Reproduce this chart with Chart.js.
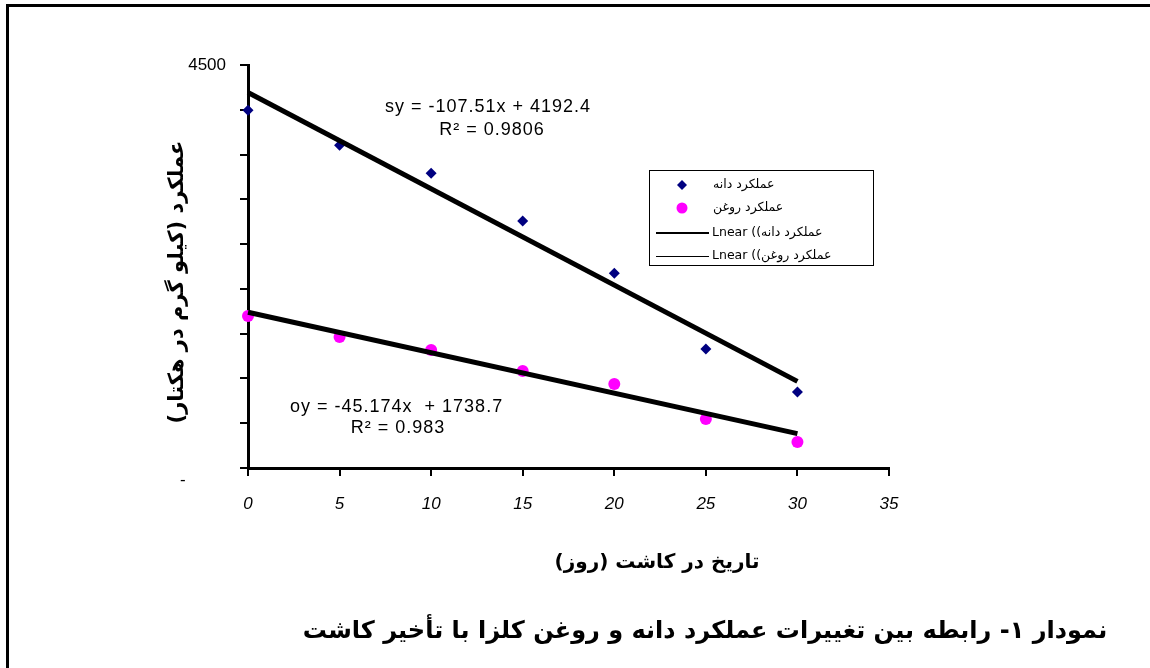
<!DOCTYPE html>
<html>
<head>
<meta charset="utf-8">
<script src="https://cdn.jsdelivr.net/npm/chart.js@4.4.0/dist/chart.umd.min.js"></script>
<style>
  body { margin: 0; background: #fff; }
  #wrap { position: relative; width: 1150px; height: 668px; }
  #frame { position: absolute; left: 6px; top: 4px; right: 0; bottom: 0;
           border-top: 3px solid #000; border-left: 3px solid #000; pointer-events: none; }
  canvas { position: absolute; left: 0; top: 0; }
</style>
</head>
<body>
<div id="wrap">
  <canvas id="chart" width="1150" height="668"></canvas>
  <div id="frame"></div>
</div>
<script>
// days of planting delay
const days = [0, 5, 10, 15, 20, 25, 30];
// grain yield (kg/ha)
const grainYield = [3996, 3605, 3292, 2757, 2176, 1328, 848];
// oil yield (kg/ha)
const oilYield = [1696, 1462, 1317, 1083, 937, 547, 290];
// trendline ends at x = 0 and x = 30
const trendX = [0, 30];
const grainTrend = [4192.4, 967.1];
const oilTrend = [1738.7, 383.5];

const grainLabel = "عملکرد دانه";
const oilLabel = "عملکرد روغن";
const grainEq = ["sy = -107.51x + 4192.4", "R² = 0.9806"];
const oilEq = ["oy = -45.174x  + 1738.7", "R² = 0.983"];
const yTitle = "عملکرد (کیلو گرم در هکتار)";
const xTitle = "تاریخ در کاشت (روز)";
const caption = "نمودار ۱- رابطه بین تغییرات عملکرد دانه و روغن کلزا با تأخیر کاشت";

const pts = (xs, ys) => xs.map((x, i) => ({ x, y: ys[i] }));

// texts, legend box and the "-" zero label
const extras = {
  id: "extras",
  afterDraw(chart) {
    const ctx = chart.ctx;
    const ys = chart.scales.y;
    ctx.save();
    ctx.fillStyle = "#000";
    ctx.textBaseline = "middle";

    // zero label
    ctx.font = "17px 'Liberation Sans'";
    ctx.textAlign = "left";
    ctx.fillText("-", 180, ys.getPixelForValue(0) + 12);

    // equations
    ctx.font = "18px 'Liberation Sans'";
    ctx.letterSpacing = "1px";
    ctx.textAlign = "left";
    ctx.fillText(grainEq[0], 385, 107);
    ctx.fillText(oilEq[0], 290, 407);
    ctx.textAlign = "center";
    ctx.fillText(grainEq[1], 492, 130);
    ctx.fillText(oilEq[1], 398, 428);
    ctx.letterSpacing = "0px";

    // axis titles
    ctx.font = "bold 20px 'DejaVu Sans'";
    ctx.textAlign = "center";
    ctx.fillText(xTitle, 657, 563);
    ctx.save();
    ctx.translate(178, 282);
    ctx.rotate(-Math.PI / 2);
    ctx.font = "bold 21px 'DejaVu Sans'";
    ctx.fillText(yTitle, 0, 0);
    ctx.restore();

    // caption
    ctx.font = "bold 24px 'DejaVu Sans'";
    ctx.fillText(caption, 705, 632);

    // legend
    ctx.lineWidth = 1;
    ctx.strokeStyle = "#000";
    ctx.strokeRect(649.5, 170.5, 224, 95);
    ctx.font = "12.5px 'DejaVu Sans'";
    ctx.textAlign = "left";
    // diamond
    ctx.fillStyle = "#000080";
    ctx.beginPath();
    ctx.moveTo(682, 180); ctx.lineTo(687, 185); ctx.lineTo(682, 190); ctx.lineTo(677, 185);
    ctx.closePath(); ctx.fill();
    // circle
    ctx.fillStyle = "#ff00ff";
    ctx.beginPath(); ctx.arc(682, 208, 5.5, 0, Math.PI * 2); ctx.fill();
    ctx.fillStyle = "#000";
    ctx.fillText(grainLabel, 713, 185);
    ctx.fillText(oilLabel, 713, 208);
    ctx.beginPath(); ctx.lineWidth = 2;
    ctx.moveTo(656, 233); ctx.lineTo(709, 233); ctx.stroke();
    ctx.beginPath(); ctx.lineWidth = 1;
    ctx.moveTo(656, 256.5); ctx.lineTo(709, 256.5); ctx.stroke();
    ctx.fillText("Lnear ((" + grainLabel, 712, 233);
    ctx.fillText("Lnear ((" + oilLabel, 712, 256);
    ctx.restore();
  }
};

new Chart(document.getElementById("chart"), {
  type: "scatter",
  data: {
    datasets: [
      {
        label: "Linear (" + grainLabel + ")",
        type: "line",
        data: pts(trendX, grainTrend),
        borderColor: "#000",
        borderWidth: 5,
        pointRadius: 0,
        clip: false,
        order: 0
      },
      {
        label: "Linear (" + oilLabel + ")",
        type: "line",
        data: pts(trendX, oilTrend),
        borderColor: "#000",
        borderWidth: 5,
        pointRadius: 0,
        clip: false,
        order: 0
      },
      {
        label: grainLabel,
        data: pts(days, grainYield),
        pointStyle: "rectRot",
        pointRadius: 5.5,
        backgroundColor: "#000080",
        borderColor: "#000080",
        borderWidth: 0,
        clip: false,
        order: 1
      },
      {
        label: oilLabel,
        data: pts(days, oilYield),
        pointStyle: "circle",
        pointRadius: 6,
        backgroundColor: "#ff00ff",
        borderColor: "#ff00ff",
        borderWidth: 0,
        clip: false,
        order: 1
      }
    ]
  },
  options: {
    responsive: false,
    animation: false,
    layout: { padding: { left: 0, top: 65, right: 261, bottom: 0 } },
    plugins: {
      legend: { display: false },
      tooltip: { enabled: false }
    },
    scales: {
      x: {
        type: "linear",
        min: 0,
        max: 35,
        afterFit: (s) => { s.height = 200; },
        ticks: {
          stepSize: 5,
          padding: 18,
          color: "#000",
          font: { family: "'Liberation Sans'", size: 17, style: "italic" }
        },
        grid: { drawOnChartArea: false, tickLength: 8, color: "#000", lineWidth: 2 },
        border: { color: "#000", width: 3 }
      },
      y: {
        min: 0,
        max: 4500,
        afterFit: (s) => { s.width = 248; },
        ticks: {
          stepSize: 500,
          padding: 14,
          color: "#000",
          font: { family: "'Liberation Sans'", size: 17 },
          callback: (v) => (v === 4500 ? "4500" : "")
        },
        grid: { drawOnChartArea: false, tickLength: 8, color: "#000", lineWidth: 2 },
        border: { color: "#000", width: 3 }
      }
    }
  },
  plugins: [extras]
});
</script>
</body>
</html>
